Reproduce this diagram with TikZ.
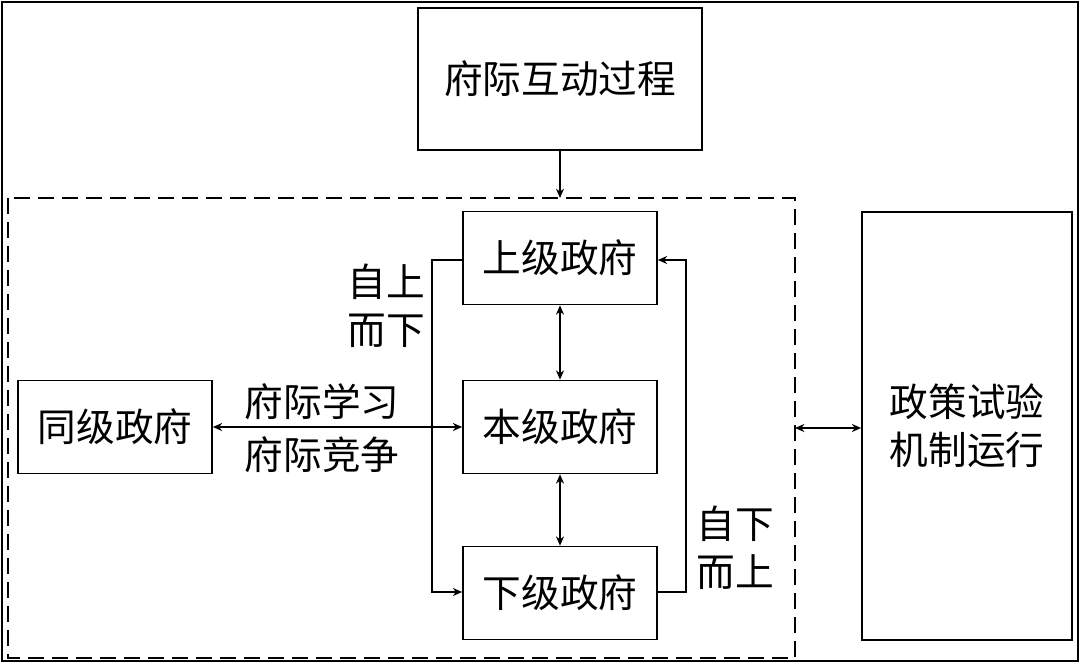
\documentclass[tikz,border=0pt]{standalone}
\usepackage{fontspec}
\setmainfont{Noto Sans CJK SC}
\usetikzlibrary{arrows.meta}
\begin{document}
\begin{tikzpicture}[x=0.75pt,y=-0.75pt,
  box/.style={draw,line width=1.2pt,inner sep=0pt},
  lbl/.style={font=\fontsize{29}{36}\selectfont,align=left,inner sep=0pt},
  arr/.style={line width=1.2pt,-{Stealth[length=7pt,width=6pt]}},
  darr/.style={line width=1.2pt,{Stealth[length=7pt,width=6pt]}-{Stealth[length=7pt,width=6pt]}}]
\useasboundingbox (0,0) rectangle (1080,663);
\draw[line width=2pt] (2,2) rectangle (1078,661);
\node[box,minimum width=284*0.75pt,minimum height=142*0.75pt,lbl] (top) at (560,79) {府际互动过程};
\draw[dashed,dash pattern=on 12pt off 6pt,line width=1.2pt] (8,198) rectangle (795,658);
\coordinate (dtop) at (560,198);
\coordinate (dr) at (795,428);
\node[box,minimum width=194*0.75pt,minimum height=93*0.75pt,lbl] (up) at (560,258) {上级政府};
\node[box,minimum width=194*0.75pt,minimum height=93*0.75pt,lbl] (mid) at (560,427) {本级政府};
\node[box,minimum width=194*0.75pt,minimum height=93*0.75pt,lbl] (low) at (560,593) {下级政府};
\node[box,minimum width=194*0.75pt,minimum height=93*0.75pt,lbl] (peer) at (115,427) {同级政府};
\node[box,minimum width=210*0.75pt,minimum height=428*0.75pt,lbl] (pol) at (967,426) {政策试验\\机制运行};
\draw[arr] (top) -- (dtop);
\draw[darr] (up) -- (mid);
\draw[darr] (mid) -- (low);
\draw[darr] (peer) -- (mid);
\draw[darr] (dr) -- (pol.west|-dr);
\draw[arr] (up.west|-0,260) -- (432,260) -- (432,592) -- (low.west|-0,592);
\draw[arr] (low.east|-0,592) -- (686,592) -- (686,260) -- (up.east|-0,260);
\node[lbl] (l1) at (322,402) {府际学习};
\node[lbl] (l2) at (322,455) {府际竞争};
\node[lbl] (l3) at (386,306) {自上\\而下};
\node[lbl] (l4) at (735,548) {自下\\而上};
\end{tikzpicture}
\end{document}
